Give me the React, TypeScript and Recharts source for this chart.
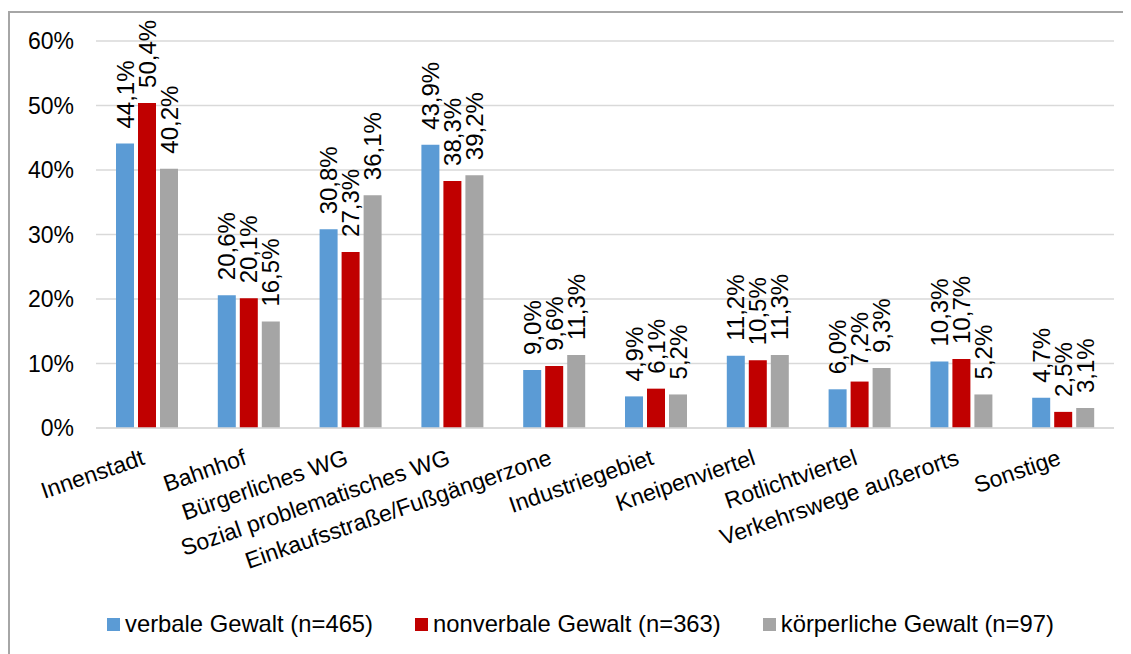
import { BarChart, Bar, XAxis, YAxis, CartesianGrid, Legend, LabelList } from "recharts";

const categories = [
  "Innenstadt",
  "Bahnhof",
  "Bürgerliches WG",
  "Sozial problematisches WG",
  "Einkaufsstraße/Fußgängerzone",
  "Industriegebiet",
  "Kneipenviertel",
  "Rotlichtviertel",
  "Verkehrswege außerorts",
  "Sonstige",
];
const verbal = [44.1, 20.6, 30.8, 43.9, 9.0, 4.9, 11.2, 6.0, 10.3, 4.7];
const nonverbal = [50.4, 20.1, 27.3, 38.3, 9.6, 6.1, 10.5, 7.2, 10.7, 2.5];
const physical = [40.2, 16.5, 36.1, 39.2, 11.3, 5.2, 11.3, 9.3, 5.2, 3.1];
const yTicks = [0, 10, 20, 30, 40, 50, 60];

const series = [
  { key: "verbal", name: "verbale Gewalt (n=465)", color: "#5B9BD5" },
  { key: "nonverbal", name: "nonverbale Gewalt (n=363)", color: "#C00000" },
  { key: "physical", name: "körperliche Gewalt (n=97)", color: "#A5A5A5" },
];

const data = categories.map((name, i) => ({
  name,
  verbal: verbal[i],
  nonverbal: nonverbal[i],
  physical: physical[i],
}));

const FONT = '"Liberation Sans", Arial, sans-serif';

const fmt = (v: number) => v.toFixed(1).replace(".", ",") + "%";

const CategoryTick = ({ x, y, payload }: any) => (
  <g transform={`translate(${x - 1},${y + 28})`}>
    <text textAnchor="end" transform="rotate(-19)" fontSize={23} fontFamily={FONT} fill="#000">
      {payload.value}
    </text>
  </g>
);

// labels sit above the bar, reading bottom-to-top
const renderLabel = (props: any) => {
  const { x, y, width, value } = props;
  const cx = Number(x) + Number(width) / 2;
  const by = Number(y) - 15;
  return (
    <text
      transform={`translate(${cx} ${by}) rotate(-90)`}
      textAnchor="start"
      dominantBaseline="central"
      fontSize={24}
      fontFamily={FONT}
      fill="#000"
    >
      {fmt(Number(value))}
    </text>
  );
};

const LegendContent = () => (
  <div style={{ display: "flex", alignItems: "center", height: 40, paddingLeft: 97, fontFamily: FONT, fontSize: 23.8 }}>
    {series.map((s) => (
      <div key={s.key} style={{ display: "flex", alignItems: "center", marginRight: 42 }}>
        <span style={{ width: 13, height: 13, background: s.color, marginRight: 5, display: "inline-block" }} />
        <span style={{ color: "#000", whiteSpace: "nowrap" }}>{s.name}</span>
      </div>
    ))}
  </div>
);

export default function App() {
  return (
    <div
      style={{
        marginTop: 3,
        width: 1160,
        height: 680,
        border: "2px solid #a6a6a6",
        boxSizing: "border-box",
        background: "#fff",
      }}
    >
      <style>{"body{overflow:hidden}"}</style>
      <BarChart
        width={1121}
        height={641}
        data={data}
        margin={{ top: 28, right: 17, left: 0, bottom: 10 }}
        barSize={18}
        barGap={4}
      >
        <CartesianGrid vertical={false} stroke="#d9d9d9" strokeWidth={1.5} />
        <XAxis
          dataKey="name"
          interval={0}
          height={176}
          tick={<CategoryTick />}
          tickLine={false}
          axisLine={{ stroke: "#d9d9d9", strokeWidth: 1.5 }}
        />
        <YAxis
          width={86}
          domain={[0, 60]}
          ticks={yTicks}
          tickFormatter={(v) => `${v}%`}
          tickLine={false}
          axisLine={false}
          tickSize={0}
          tickMargin={22}
          tick={{ fontSize: 23, fontFamily: FONT, fill: "#000" }}
        />
        <Legend
          verticalAlign="bottom"
          content={<LegendContent />}
          wrapperStyle={{ left: 0, width: 1121 }}
        />
        {series.map((s) => (
          <Bar key={s.key} dataKey={s.key} name={s.name} fill={s.color} isAnimationActive={false}>
            <LabelList dataKey={s.key} content={renderLabel} />
          </Bar>
        ))}
      </BarChart>
    </div>
  );
}
